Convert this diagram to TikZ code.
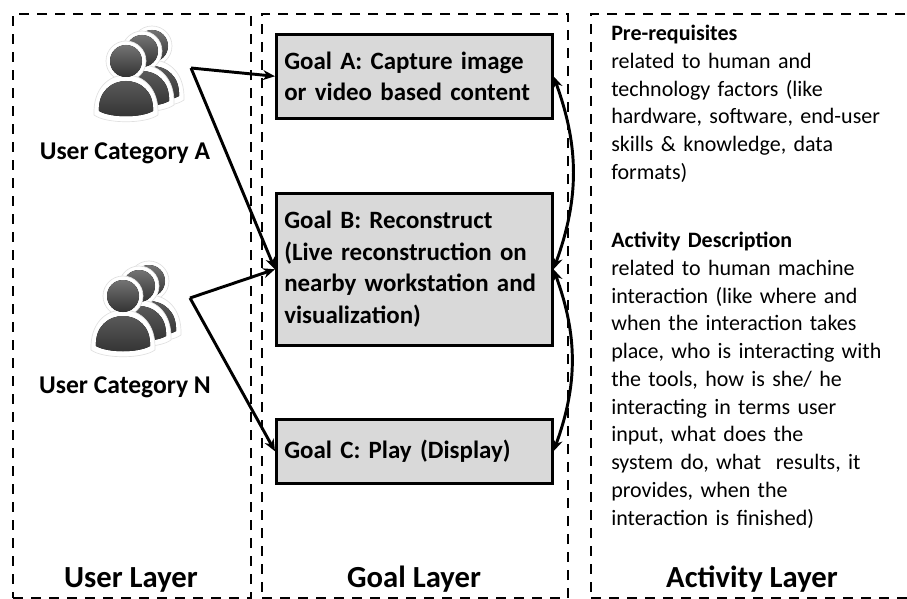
\documentclass[tikz,border=0pt]{standalone}
\usepackage{fontspec}
\setmainfont{Carlito}
\usetikzlibrary{arrows.meta,positioning}

\begin{document}
\begin{tikzpicture}[
    x=0.75pt, y=-0.75pt,
    layer/.style={draw, line width=1.7pt, dash pattern=on 7.5pt off 6pt, anchor=north west, minimum height=438pt, inner sep=0pt},
    layername/.style={font=\fontsize{23}{26}\selectfont\bfseries, anchor=base},
    goal/.style={draw, line width=1.9pt, fill=black!15, anchor=north west, minimum width=207pt, align=left, inner sep=0pt, text width=195pt, font=\fontsize{18.7}{23.6}\selectfont\bfseries},
    usercat/.style={font=\fontsize{19.2}{22}\selectfont\bfseries, anchor=base},
    info/.style={anchor=north west, align=left, inner sep=0pt, text width=225pt, font=\fontsize{16.5}{20.8}\selectfont},
    arrow/.style={-{Stealth[length=9pt,width=7.5pt]}, line width=2.2pt},
    twoway/.style={{Stealth[length=9pt,width=7.5pt]}-{Stealth[length=9pt,width=7.5pt]}, line width=2.2pt},
    member/.pic={
        \fill[white, draw=black!12, line width=0.5pt] (0,-20) circle (20);
        \fill[white, draw=black!12, line width=0.5pt] (-32,34) .. controls (-33,8) and (-18,-6) .. (0,-6) .. controls (18,-6) and (33,8) .. (32,34) .. controls (20,43) and (-20,43) .. (-32,34) -- cycle;
        \fill[top color=black!55, bottom color=black!80] (0,-20) circle (16);
        \fill[top color=black!65, bottom color=black!80] (-27,30) .. controls (-28,10) and (-14,0) .. (0,0) .. controls (14,0) and (28,10) .. (27,30) .. controls (15,37) and (-15,37) .. (-27,30) -- cycle;
    },
    group/.pic={
        \pic at (26,-15) {member};
        \pic at (16,-10) {member};
        \pic at (0,0) {member};
    }
]
\useasboundingbox (0,0) rectangle (907,599);

% Layers
\node[layer, minimum width=178.5pt] (userlayer) at (12,13) {};
\node[layer, minimum width=229.5pt] (goallayer) at (261,13) {};
\node[layer, minimum width=243pt] (activitylayer) at (590,13) {};

% Layer names
\node[layername] (username) at (131,587) {User Layer};
\node[layername] (goalname) at (414,587) {Goal Layer};
\node[layername] (activityname) at (752,587) {Activity Layer};

% Users
\pic at (126,81) {group};
\pic at (123,316) {group};
\node[usercat] (cata) at (125,160) {User Category A};
\node[usercat] (catn) at (125,393) {User Category N};
\coordinate (usera) at (191,68);
\coordinate (usern) at (190,298);

% Goals
\node[goal, minimum height=63pt] (goala) at (275,33) {Goal A: Capture image\\or video based content};
\node[goal, minimum height=114pt] (goalb) at (275,192) {Goal B: Reconstruct\\(Live reconstruction on\\nearby workstation and\\visualization)};
\node[goal, minimum height=48pt] (goalc) at (275,418) {Goal C: Play (Display)};

% Activity text
\node[info] (prereq) at (611,25) {\textbf{Pre-requisites}\\related to human and\\technology factors (like\\hardware, software, end-user\\skills \& knowledge, data\\formats)};
\node[info] (activity) at (611,232) {\textbf{Activity Description}\\related to human machine\\interaction (like where and\\when the interaction takes\\place, who is interacting with\\the tools, how is she/ he\\interacting in terms user\\input, what does the\\system do, what~~results, it\\provides, when the\\interaction is finished)};

% Arrows
\draw[arrow] (usera) -- (goala.west);
\draw[arrow] (usera) -- (goalb.west);
\draw[arrow] (usern) -- (goalb.west);
\draw[arrow] (usern) -- (goalc.west);
\draw[twoway] (goala.east) to[bend left=20] (goalb.east);
\draw[twoway] (goalb.east) to[bend left=20] (goalc.east);

\end{tikzpicture}
\end{document}
